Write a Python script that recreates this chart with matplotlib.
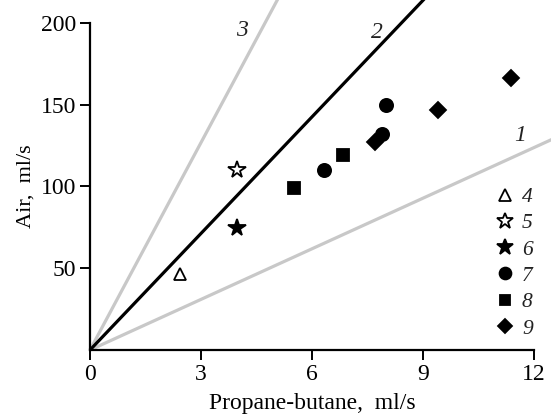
import matplotlib
matplotlib.use("Agg")
import matplotlib.pyplot as plt
from matplotlib.lines import Line2D

# ---- data ----
line_names = ["1", "2", "3"]
line_x = [[0, 12.6], [0, 9.3], [0, 5.25]]
line_y = [[0, 130], [0, 221], [0, 222]]
line_colors = ["#c8c8c8", "black", "#c8c8c8"]
label_pos_x = [11.62, 7.75, 4.1]
label_pos_y = [131, 194, 195.7]

series_labels = ["4", "5", "6", "7", "8", "9"]
x4 = [2.43]; y4 = [46.5]
x5 = [3.97]; y5 = [110]
x6 = [3.97]; y6 = [74.6]
x7 = [6.33, 7.88, 8.0]; y7 = [110, 131.9, 149.8]
x8 = [5.51, 6.85]; y8 = [98.9, 119.3]
x9 = [7.70, 9.41, 11.38]; y9 = [127.4, 146.8, 166.2]

xticks = [0, 3, 6, 9, 12]
yticks = [50, 100, 150, 200]

plt.rcParams['font.family'] = ['Liberation Serif', 'DejaVu Serif']

fig = plt.figure(figsize=(5.51, 4.19), dpi=100)
ax = fig.add_axes([90/551, 69/419, 444/551, 327/419])

for lx, ly, c, z in zip(line_x, line_y, line_colors, [1, 3, 1]):
    ax.plot(lx, ly, color=c, lw=2.3, clip_on=False, zorder=z, solid_capstyle='butt')
for nm, px, py in zip(line_names, label_pos_x, label_pos_y):
    ax.text(px, py, nm, fontsize=17, style='italic', ha='center', va='center', color='#222222')

specs = [
    (x4, y4, '^', 'white', 9),
    (x5, y5, '*', 'white', 13),
    (x6, y6, '*', 'black', 13),
    (x7, y7, 'o', 'black', 9.5),
    (x8, y8, 's', 'black', 8.3),
    (x9, y9, 'D', 'black', 8),
]
handles = []
for (xs, ys, m, fc, s), lab in zip(specs, series_labels):
    ax.plot(xs, ys, linestyle='none', marker=m, markerfacecolor=fc,
            markeredgecolor='black', markersize=s, markeredgewidth=1.3, zorder=5)
    handles.append(Line2D([], [], linestyle='none', marker=m, markerfacecolor=fc,
                          markeredgecolor='black', markersize=s * 0.9, markeredgewidth=1.3))

leg = ax.legend(handles, series_labels, loc='upper left', bbox_to_anchor=(494/551, 1 - 187/419),
                bbox_transform=fig.transFigure, frameon=False, handlelength=1.0,
                handletextpad=0.3, labelspacing=0.29, borderpad=0, borderaxespad=0,
                prop={'family': 'Liberation Serif', 'style': 'italic', 'size': 15.5})
for t in leg.get_texts():
    t.set_color('#222222')

ax.set_xlim(0, 12)
ax.set_ylim(0, 200)
ax.set_xticks(xticks)
ax.set_yticks(yticks)
ax.tick_params(axis='both', direction='out', length=7, width=1.4, labelsize=17, pad=3)
for s in ['top', 'right']:
    ax.spines[s].set_visible(False)
for s in ['left', 'bottom']:
    ax.spines[s].set_linewidth(1.6)

ax.set_xlabel("Propane-butane,  ml/s", fontsize=17, labelpad=6)
ax.set_ylabel("Air,  ml/s", fontsize=16, labelpad=4)

fig.savefig("out.png", dpi=100)
